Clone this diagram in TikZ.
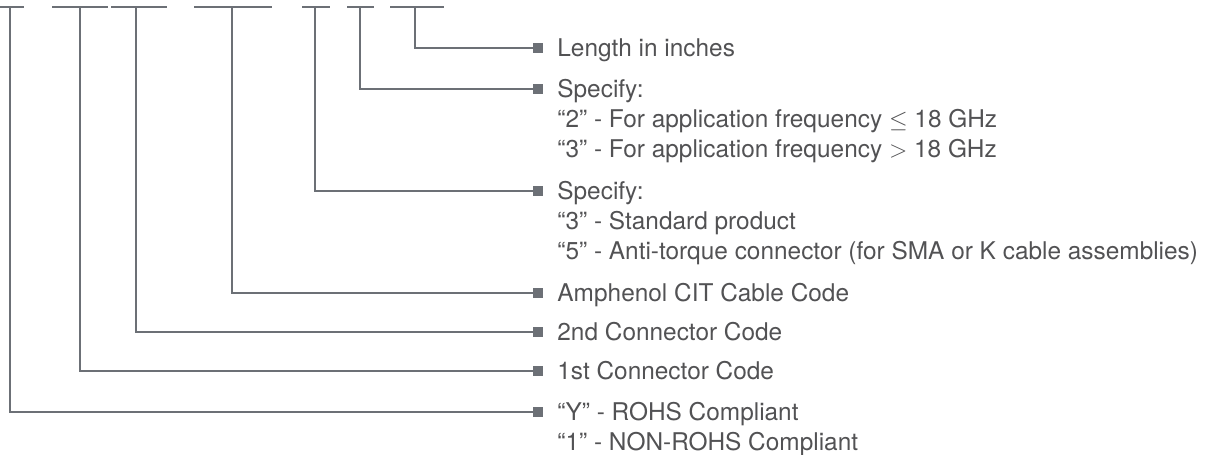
\documentclass[tikz,border=0pt]{standalone}
\usepackage{fontspec}
\setmainfont{TeX Gyre Heros}
\usepackage{tikz}
\usetikzlibrary{arrows.meta}

\definecolor{leadgray}{RGB}{108,112,118}
\definecolor{textgray}{RGB}{82,82,84}

\newcommand\rows[1]{\vtop{\halign{##\hfil\cr#1\crcr}}}

\tikzset{
    bar/.style = {draw = leadgray, line width = 1.3pt},
    lead/.style = {draw = leadgray, line width = 1.3pt, -{Square[length = 5pt, width = 5pt]}},
    lbl/.style = {anchor = base west, inner xsep = 7pt, inner ysep = 0pt,
        text = textgray, font = \fontsize{12.2}{15}\selectfont}
}

\begin{document}
\begin{tikzpicture}[x = 0.5pt, y = -0.5pt]
    \useasboundingbox (0, 0) rectangle (1205, 455);
    \foreach \n\a\b\d in {1/0/24/10, 2/52/108/80, 3/111/167/136, 4/194/272/232, 5/302/330/315, 6/347/374/360, 7/390/444/415} {
        \draw [bar] (\a, 7) -- (\b, 7);
        \coordinate (t\n) at (\d, 7);
    }
    \node [lbl] (len) at (543, 56.5) {Length in inches};
    \node [lbl] (freq) at (543, 97.5) {\rows{Specify:\cr “2” - For application frequency $\leq$ 18 GHz\cr “3” - For application frequency $>$ 18 GHz}};
    \node [lbl] (prod) at (543, 199.5) {\rows{Specify:\cr “3” - Standard product\cr “5” - Anti-torque connector (for SMA or K cable assemblies)}};
    \node [lbl] (cable) at (543, 301.5) {Amphenol CIT Cable Code};
    \node [lbl] (conB) at (543, 340.5) {2nd Connector Code};
    \node [lbl] (conA) at (543, 379.5) {1st Connector Code};
    \node [lbl] (rohs) at (543, 420.5) {\rows{“Y” - ROHS Compliant\cr “1” - NON-ROHS Compliant}};
    \foreach \i\j in {7/len, 6/freq, 5/prod, 4/cable, 3/conB, 2/conA, 1/rohs} {
        \draw [lead] (t\i) |- ([yshift = 4.25pt]\j.base west);
    }
\end{tikzpicture}
\end{document}
